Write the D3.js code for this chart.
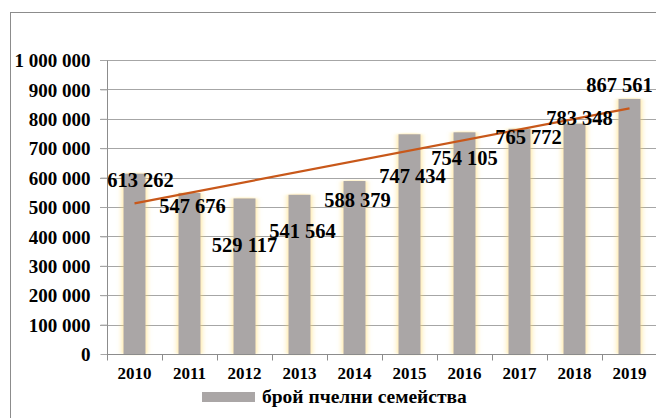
<!DOCTYPE html>
<html>
<head>
<meta charset="utf-8">
<script src="https://cdn.jsdelivr.net/npm/d3@7"></script>
<style>
  body { margin: 0; background: #fff; }
  svg { display: block; }
  .serif { font-family: "Liberation Serif", "Times New Roman", serif; font-weight: bold; fill: #000; }
</style>
</head>
<body>
<svg id="chart"></svg>
<script>
// data
let years = ["2010", "2011", "2012", "2013", "2014", "2015", "2016", "2017", "2018", "2019"];
let colonies = [613262, 547676, 529117, 541564, 588379, 747434, 754105, 765772, 783348, 867561];
let yTicks = [0, 100000, 200000, 300000, 400000, 500000, 600000, 700000, 800000, 900000, 1000000];
let legendLabel = "брой пчелни семейства";

// hand placed data labels (px from bar centre / bar top)
let labelDx = [6, 3, 0, 3, 3, 3, 0, 9, 5, -10];
let labelDy = [13, 20, 54, 43, 26, 49, 33, 15, 1, -7];

let W = 656, H = 418;
let margin = {top: 60, right: 0, bottom: 64, left: 107};

let svg = d3.select("#chart").attr("width", W).attr("height", H);

// outer frame
svg.append("rect")
   .attr("x", 10.5).attr("y", 12.5)
   .attr("width", 700).attr("height", 500)
   .attr("fill", "none")
   .attr("stroke", "#8c8c8c");

let xScale = d3.scaleBand()
   .domain(years)
   .range([margin.left, margin.left + 550])
   .paddingInner(0.6)
   .paddingOuter(0.3);

let yScale = d3.scaleLinear()
   .domain([0, 1000000])
   .range([354, 60]);

let fmt = v => d3.format(",")(v).replace(/,/g, " ");

// soft yellow glow round the bars
let defs = svg.append("defs");
let glow = defs.append("filter").attr("id", "glow")
   .attr("x", "-60%").attr("y", "-10%").attr("width", "220%").attr("height", "120%");
glow.append("feGaussianBlur").attr("in", "SourceAlpha").attr("stdDeviation", "3 0.8").attr("result", "b");
glow.append("feFlood").attr("flood-color", "#ffd85a").attr("flood-opacity", 0.85);
glow.append("feComposite").attr("in2", "b").attr("operator", "in").attr("result", "g");
let merge = glow.append("feMerge");
merge.append("feMergeNode").attr("in", "g");
merge.append("feMergeNode").attr("in", "SourceGraphic");

// gridlines
svg.append("g")
   .selectAll("line")
   .data(yTicks.slice(1))
   .join("line")
   .attr("x1", margin.left - 7).attr("x2", W + 10)
   .attr("y1", d => Math.round(yScale(d)) + 0.5)
   .attr("y2", d => Math.round(yScale(d)) + 0.5)
   .attr("stroke", "#a6a6a6");

// bars
svg.append("g")
   .selectAll("rect")
   .data(colonies)
   .join("rect")
   .attr("x", (d, i) => xScale(years[i]))
   .attr("y", d => yScale(d))
   .attr("width", xScale.bandwidth())
   .attr("height", d => yScale(0) - yScale(d))
   .attr("fill", "#aaa6a6")
   .attr("filter", "url(#glow)");

// y axis
let yAxis = d3.axisLeft(yScale).tickValues(yTicks).tickSize(7).tickFormat(fmt);
let yAxisGroup = svg.append("g")
   .attr("transform", `translate(${margin.left + 0.5},0)`)
   .call(yAxis)
   .attr("font-family", null);
yAxisGroup.select(".domain").attr("stroke", "#8c8c8c").attr("d", "M0,60V354");
yAxisGroup.selectAll(".tick line").attr("stroke", "#a6a6a6");
yAxisGroup.selectAll(".tick text")
   .attr("class", "serif")
   .attr("x", -17)
   .attr("dy", "0.35em")
   .style("font-size", "19px");

// x axis
let xAxis = d3.axisBottom(xScale).tickSize(0).tickPadding(12);
let xAxisGroup = svg.append("g")
   .attr("transform", `translate(0,${yScale(0) + 0.5})`)
   .call(xAxis)
   .attr("font-family", null);
xAxisGroup.select(".domain").attr("stroke", "#8c8c8c").attr("d", `M${margin.left},0H${W + 10}`);
xAxisGroup.selectAll(".tick text")
   .attr("class", "serif")
   .style("font-size", "17px");
// tick marks between categories
xAxisGroup.append("g")
   .selectAll("line")
   .data(years)
   .join("line")
   .attr("x1", d => Math.round(xScale(d) - xScale.step() * 0.3) + 0.5)
   .attr("x2", d => Math.round(xScale(d) - xScale.step() * 0.3) + 0.5)
   .attr("y1", 0).attr("y2", 6)
   .attr("stroke", "#8c8c8c");

// linear trend line
let n = colonies.length;
let mx = d3.mean(d3.range(n)), my = d3.mean(colonies);
let slope = d3.sum(colonies, (d, i) => (i - mx) * (d - my)) / d3.sum(d3.range(n), i => (i - mx) * (i - mx));
let trend = i => my + slope * (i - mx);
let line = d3.line()
   .x(i => xScale(years[i]) + xScale.bandwidth() / 2)
   .y(i => yScale(trend(i)));
svg.append("path")
   .datum([0, n - 1])
   .attr("d", line)
   .attr("fill", "none")
   .attr("stroke", "#c8581a")
   .attr("stroke-width", 2.2);

// data labels
svg.append("g")
   .selectAll("text")
   .data(colonies)
   .join("text")
   .attr("class", "serif")
   .attr("x", (d, i) => xScale(years[i]) + xScale.bandwidth() / 2 + labelDx[i])
   .attr("y", (d, i) => yScale(d) + labelDy[i])
   .attr("text-anchor", "middle")
   .style("font-size", "20.5px")
   .text(fmt);

// legend
let legend = svg.append("g").attr("transform", "translate(202,392)");
legend.append("rect")
   .attr("width", 53).attr("height", 10)
   .attr("fill", "#aaa6a6");
legend.append("text")
   .attr("class", "serif")
   .attr("x", 60).attr("y", 11)
   .style("font-size", "19.5px")
   .text(legendLabel);
</script>
</body>
</html>
